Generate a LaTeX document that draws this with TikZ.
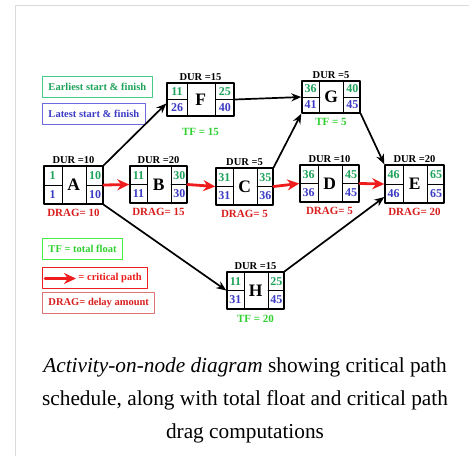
\documentclass[tikz,border=0pt]{standalone}
\usepackage{fontspec}
\setmainfont{Liberation Serif}
\usetikzlibrary{positioning,arrows.meta}

\definecolor{esgreen}{HTML}{1FA35A}
\definecolor{lsblue}{HTML}{3B3BC4}
\definecolor{tfgreen}{HTML}{2FD02F}
\definecolor{cpred}{HTML}{EE1C1C}
\definecolor{dragred}{HTML}{D91E1E}
\definecolor{legesline}{HTML}{44CC88}
\definecolor{leglsline}{HTML}{6A6ADD}
\definecolor{legtfline}{HTML}{44EE44}
\definecolor{legdragline}{HTML}{DD7777}
\definecolor{framegray}{HTML}{DADADA}

\tikzset{
  actbox/.style={draw, line width=1.4pt, inner sep=0pt},
  cellline/.style={line width=0.9pt},
  cellnum/.style={font=\fontsize{12}{12}\bfseries\selectfont, inner sep=0pt},
  actletter/.style={font=\fontsize{17.5}{18}\bfseries\selectfont, inner sep=0pt},
  durlabel/.style={font=\fontsize{10.5}{11}\bfseries\selectfont, inner sep=1pt},
  draglabel/.style={font=\fontsize{11}{12}\bfseries\selectfont, text=dragred, inner sep=1pt},
  tflabel/.style={font=\fontsize{11}{12}\bfseries\selectfont, text=tfgreen, inner sep=1pt},
  legbox/.style={draw, line width=1pt, font=\fontsize{10.5}{11}\bfseries\selectfont,
    inner xsep=6pt, inner ysep=0pt, minimum height=21pt, anchor=west},
  link/.style={line width=1.7pt, -{Stealth[length=10pt,width=8pt]}},
  critlink/.style={draw=cpred, line width=2.8pt, -{Stealth[length=12pt,width=11pt]}},
}

% one activity box: name, centre, width, height, ES, EF, LS, LF
\newcommand{\activity}[8]{%
  \node[actbox, minimum width=#3, minimum height=#4] (#1) at #2 {};
  \draw[cellline] ([xshift=0.32*#3]#1.north west) -- ([xshift=0.32*#3]#1.south west);
  \draw[cellline] ([xshift=-0.29*#3]#1.north east) -- ([xshift=-0.29*#3]#1.south east);
  \draw[cellline] (#1.west) -- ([xshift=0.32*#3]#1.west);
  \draw[cellline] ([xshift=-0.29*#3]#1.east) -- (#1.east);
  \node[actletter] (#1-name) at ([xshift=0.515*#3]#1.west) {#1};
  \node[cellnum, text=esgreen] (#1-es) at ([xshift=0.16*#3, yshift=0.25*#4]#1.west) {#5};
  \node[cellnum, text=esgreen] (#1-ef) at ([xshift=-0.145*#3, yshift=0.25*#4]#1.east) {#6};
  \node[cellnum, text=lsblue] (#1-ls) at ([xshift=0.16*#3, yshift=-0.25*#4]#1.west) {#7};
  \node[cellnum, text=lsblue] (#1-lf) at ([xshift=-0.145*#3, yshift=-0.25*#4]#1.east) {#8};
}

\begin{document}
\begin{tikzpicture}[x=1pt,y=-1pt,line cap=round,line join=round]
  \useasboundingbox (0,0) rectangle (469,456);
  \draw[framegray, line width=1.5pt, line cap=butt] (15.5,456) -- (15.5,5.5) -- (469,5.5);

  % legend
  \node[legbox, draw=legesline, text=esgreen] (legES) at (42,87) {Earliest start \& finish};
  \node[legbox, draw=leglsline, text=lsblue] (legLS) at (42,113.5) {Latest start \& finish};
  \node[legbox, draw=legtfline, text=tfgreen] (legTF) at (42,248.5) {TF = total float};
  \node[legbox, draw=cpred, text=cpred] (legCP) at (42,277.5) {\hspace*{30pt}= critical path};
  \node[legbox, draw=legdragline, text=dragred] (legDRAG) at (42,302.5) {DRAG= delay amount};
  \draw[critlink] ([xshift=3pt,yshift=-1pt]legCP.west) -- ([xshift=34pt,yshift=-1pt]legCP.west);

  % activities
  \activity{A}{(73.5,185)}{59}{38}{1}{10}{1}{10}
  \activity{B}{(158.5,184.5)}{57}{37}{11}{30}{11}{30}
  \activity{C}{(244.5,186.5)}{57}{37}{31}{35}{31}{36}
  \activity{D}{(329.5,183.5)}{59}{37}{36}{45}{36}{45}
  \activity{E}{(414.5,184)}{59}{38}{46}{65}{46}{65}
  \activity{F}{(200.5,99.5)}{67}{33}{11}{25}{26}{40}
  \activity{G}{(331,97)}{58}{32}{36}{40}{41}{45}
  \activity{H}{(255.5,290.5)}{57}{37}{11}{25}{31}{45}

  \node[durlabel, above=1pt of A] (A-dur) {DUR =10};
  \node[durlabel, above=1pt of B] (B-dur) {DUR =20};
  \node[durlabel, above=1pt of C] (C-dur) {DUR =5};
  \node[durlabel, above=1pt of D] (D-dur) {DUR =10};
  \node[durlabel, above=1pt of E] (E-dur) {DUR =20};
  \node[durlabel, above=1pt of F] (F-dur) {DUR =15};
  \node[durlabel, above=1pt of G] (G-dur) {DUR =5};
  \node[durlabel, above=1pt of H] (H-dur) {DUR =15};

  \node[draglabel, below=3pt of A] (A-drag) {DRAG= 10};
  \node[draglabel, below=3pt of B] (B-drag) {DRAG= 15};
  \node[draglabel, below=3pt of C] (C-drag) {DRAG= 5};
  \node[draglabel, below=3pt of D] (D-drag) {DRAG= 5};
  \node[draglabel, below=3pt of E] (E-drag) {DRAG= 20};
  \node[tflabel, below=10pt of F] (F-tf) {TF = 15};
  \node[tflabel, below=3pt of G] (G-tf) {TF = 5};
  \node[tflabel, below=4pt of H] (H-tf) {TF = 20};

  % links
  \draw[critlink] (A.east) -- (B.west);
  \draw[critlink] (B.east) -- (C.west);
  \draw[critlink] (C.east) -- (D.west);
  \draw[critlink] (D.east) -- (E.west);
  \draw[link] (A.north east) -- ([yshift=-4pt]F.west);
  \draw[link] (A.south east) -- (H.west);
  \draw[link] (F.east) -- (G.west);
  \draw[link] (C.north east) -- (G.south west);
  \draw[link] (G.south east) -- (E.north west);
  \draw[link] (H.north east) -- ([yshift=-13pt]E.west);

  % caption
  \node[font=\fontsize{21.3}{33}\selectfont, align=center] (caption) at (245,400)
    {\textit{Activity-on-node diagram} showing critical path\\
     schedule, along with total float and critical path\\
     drag computations};
\end{tikzpicture}
\end{document}
